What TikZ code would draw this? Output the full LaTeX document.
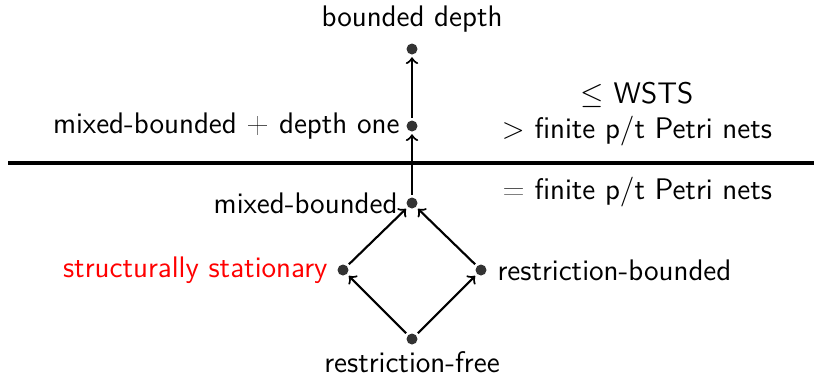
\documentclass[tikz,border=0pt]{standalone}
\usepackage{sfmath}
\renewcommand{\familydefault}{\sfdefault}
\begin{document}
\begin{tikzpicture}[x=0.4pt,y=-0.4pt,
  dot/.style={circle,fill=black!80,inner sep=0pt,minimum size=4.4pt,outer sep=1.1pt},
  conn/.style={->,line width=0.85pt},
  lbl/.style={font=\sffamily\fontsize{11.9}{14}\selectfont,inner sep=0pt}]
\useasboundingbox (0,0) rectangle (814,376);
\node[dot] (bd) at (412,49) {};
\node[dot] (mbd) at (412,126) {};
\node[dot] (mb) at (412,203) {};
\node[dot] (ss) at (343,270) {};
\node[dot] (rb) at (481,270) {};
\node[dot] (rf) at (412,339) {};
\coordinate (hl) at (8,163);
\coordinate (hr) at (814,163);
\draw[line width=1.4pt] (hl) -- (hr);
\draw[conn] (rf) -- (ss);
\draw[conn] (rf) -- (rb);
\draw[conn] (ss) -- (mb);
\draw[conn] (rb) -- (mb);
\draw[conn] (mb) -- (mbd);
\draw[conn] (mbd) -- (bd);
\node[lbl] (tbd) at (412,19) {bounded depth};
\node[lbl,anchor=east] (tmbd) at (400,126) {mixed-bounded $+$ depth one};
\node[lbl,anchor=east] (tmb) at (398,203) {mixed-bounded};
\node[lbl,anchor=east,text=red] (tss) at (328,270) {structurally stationary};
\node[lbl,anchor=west] (trb) at (497,270) {restriction-bounded};
\node[lbl] (trf) at (412,362) {restriction-free};
\node[lbl] (t1) at (637,95) {$\leq$ WSTS};
\node[lbl] (t2) at (637,131) {$>$ finite p/t Petri nets};
\node[lbl] (t3) at (637,192) {$=$ finite p/t Petri nets};
\end{tikzpicture}
\end{document}
